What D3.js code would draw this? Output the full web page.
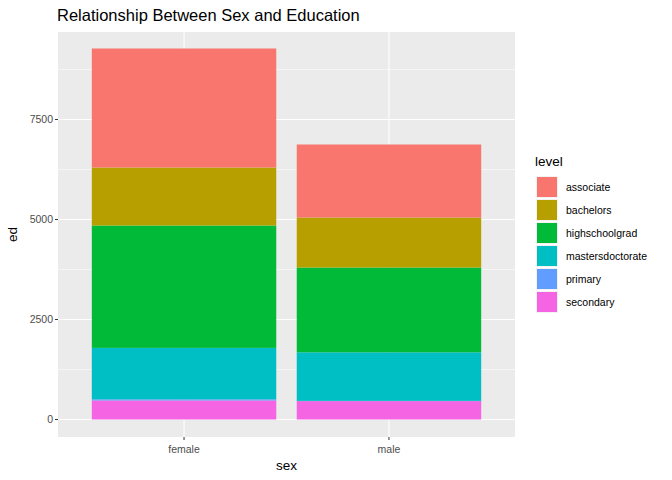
<!DOCTYPE html><html><head><script src="https://cdn.jsdelivr.net/npm/d3@7"></script>
<style>body{margin:0;background:#fff}text{font-family:"Liberation Sans",Arial,sans-serif}</style></head><body>
<svg id="c" width="672" height="480"></svg>
<script>
const sexes=["female","male"];
const levels=["associate","bachelors","highschoolgrad","mastersdoctorate","primary","secondary"];
const colors=["#F8766D","#B79F00","#00BA38","#00BFC4","#619CFF","#F564E3"];
const female=[2975,1450,3060,1285,30,475];
const male=[1825,1250,2120,1215,5,460];
const yTicks=[0,2500,5000,7500];
const svg=d3.select("#c");
const L=58,R=515,T=32,B=437;
svg.append("rect").attr("x",L).attr("y",T).attr("width",R-L).attr("height",B-T).attr("fill","#EBEBEB");
const x=d3.scaleBand().domain(sexes).range([L,R]).padding(0.1).paddingOuter(0.0);
const xs=d3.scaleBand().domain(sexes).range([L,R]).paddingInner(0.1).paddingOuter(0.165);
const y=d3.scaleLinear().domain([0,7500]).range([419.5,119.5]);
const g=svg.append("g");
[1250,3750,6250,8750].forEach(v=>g.append("line").attr("x1",L).attr("x2",R).attr("y1",y(v)).attr("y2",y(v)).attr("stroke","#fff").attr("stroke-width",0.5));
yTicks.forEach(v=>g.append("line").attr("x1",L).attr("x2",R).attr("y1",y(v)).attr("y2",y(v)).attr("stroke","#fff").attr("stroke-width",1.1));
sexes.forEach(s=>g.append("line").attr("x1",xs(s)+xs.bandwidth()/2).attr("x2",xs(s)+xs.bandwidth()/2).attr("y1",T).attr("y2",B).attr("stroke","#fff").attr("stroke-width",1.1));
const data={female,male};
sexes.forEach(s=>{let cum=0;
  for(let i=levels.length-1;i>=0;i--){const v=data[s][i];
    svg.append("rect").attr("x",xs(s)).attr("width",xs.bandwidth()).attr("y",y(cum+v)).attr("height",y(cum)-y(cum+v)).attr("fill",colors[i]);
    cum+=v;}
});
yTicks.forEach(v=>{svg.append("line").attr("x1",L-3).attr("x2",L).attr("y1",y(v)).attr("y2",y(v)).attr("stroke","#333");
  svg.append("text").attr("x",L-5).attr("y",y(v)+3.5).attr("text-anchor","end").attr("font-size",10.5).attr("fill","#4D4D4D").text(v);});
sexes.forEach(s=>{const cx=xs(s)+xs.bandwidth()/2;
  svg.append("line").attr("x1",cx).attr("x2",cx).attr("y1",B).attr("y2",B+3).attr("stroke","#333");
  svg.append("text").attr("x",cx).attr("y",B+16).attr("text-anchor","middle").attr("font-size",10.5).attr("fill","#4D4D4D").text(s);});
svg.append("text").attr("x",(L+R)/2).attr("y",470).attr("text-anchor","middle").attr("font-size",13.5).text("sex");
svg.append("text").attr("transform",`translate(17,${(T+B)/2}) rotate(-90)`).attr("text-anchor","middle").attr("font-size",13.5).text("ed");
svg.append("text").attr("x",57).attr("y",21).attr("font-size",16.5).text("Relationship Between Sex and Education");
svg.append("text").attr("x",535).attr("y",166).attr("font-size",13.5).text("level");
levels.forEach((l,i)=>{const yy=176+i*23;
  svg.append("rect").attr("x",536).attr("y",yy).attr("width",22).attr("height",22).attr("fill","#F2F2F2");
  svg.append("rect").attr("x",537).attr("y",yy+1).attr("width",20).attr("height",20).attr("fill",colors[i]);
  svg.append("text").attr("x",566).attr("y",yy+15).attr("font-size",10.5).text(l);});
</script></body></html>
